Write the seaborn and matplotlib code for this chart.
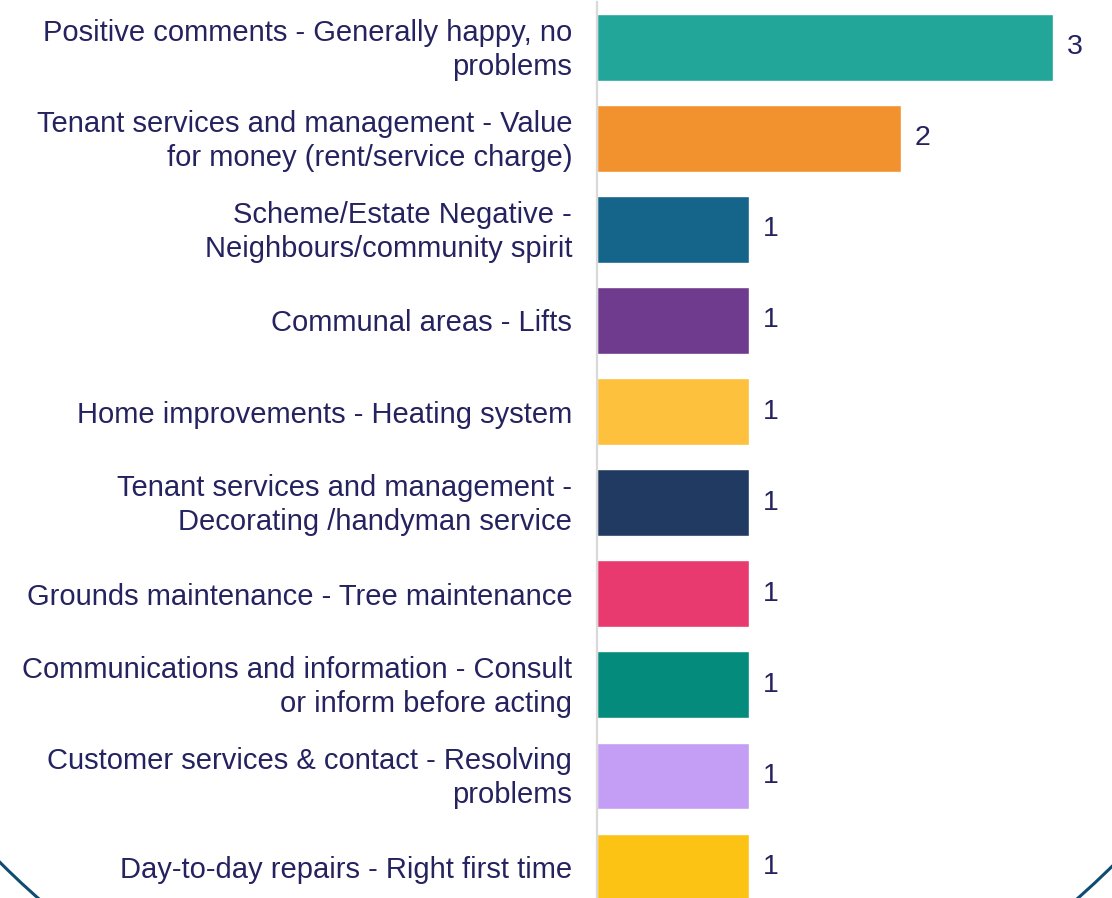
import matplotlib
matplotlib.use("Agg")
import matplotlib.pyplot as plt
import matplotlib.patches as mpatches
import matplotlib.transforms as mtransforms
import pandas as pd
import seaborn as sns

# Chart data
categories = [
    "Positive comments - Generally happy, no\nproblems",
    "Tenant services and management - Value\nfor money (rent/service charge)",
    "Scheme/Estate Negative -\nNeighbours/community spirit",
    "Communal areas - Lifts",
    "Home improvements - Heating system",
    "Tenant services and management -\nDecorating /handyman service",
    "Grounds maintenance - Tree maintenance",
    "Communications and information - Consult\nor inform before acting",
    "Customer services & contact - Resolving\nproblems",
    "Day-to-day repairs - Right first time",
]
counts = [3, 2, 1, 1, 1, 1, 1, 1, 1, 1]
bar_colors = ["#22a699", "#f2922e", "#15648a", "#6f3b8e", "#fdc13e",
              "#213a62", "#e93a70", "#058b7c", "#c49ef5", "#fcc314"]

text_color = "#25235f"

df = pd.DataFrame({"category": categories, "count": counts})

sns.set_style("white")
plt.rcParams["font.family"] = ["Liberation Sans", "DejaVu Sans"]

fig = plt.figure(figsize=(11.12, 8.98), dpi=100)

# decorative circle behind the chart (only the bottom corners show)
ring = mpatches.Circle((5.58, 5.92), 7.88, transform=fig.dpi_scale_trans,
                       fill=False, edgecolor="#0f4c72", linewidth=2.2, zorder=0)
fig.add_artist(ring)

ax = fig.add_axes([0.537, -0.016, 0.463, 1.014])
ax.set_facecolor("none")

sns.barplot(data=df, x="count", y="category", hue="category",
            palette=bar_colors, orient="h", width=0.73,
            legend=False, saturation=1, ax=ax)

for cont in ax.containers:
    ax.bar_label(cont, padding=10, fontsize=20.5, color=text_color)

ax.set_xlim(0, 3.39)
ax.set_ylim(9.5, -0.5)
ax.set_xlabel("")
ax.set_ylabel("")
ax.set_xticks([])
ax.tick_params(axis="y", length=0, pad=18, labelsize=21, labelcolor=text_color)

# two-line labels sit a touch lower in the original
shift = mtransforms.ScaledTranslation(0, -0.025, fig.dpi_scale_trans)
for lbl in ax.get_yticklabels():
    lbl.set_horizontalalignment("right")
    lbl.set_multialignment("right")
    lbl.set_linespacing(1.28)
    if "\n" in lbl.get_text():
        lbl.set_verticalalignment("center")
        lbl.set_transform(lbl.get_transform() + shift)

for side in ["top", "right", "bottom"]:
    ax.spines[side].set_visible(False)
ax.spines["left"].set_color("#d9d9d9")
ax.spines["left"].set_linewidth(1.6)

fig.savefig("out.png", dpi=100)
